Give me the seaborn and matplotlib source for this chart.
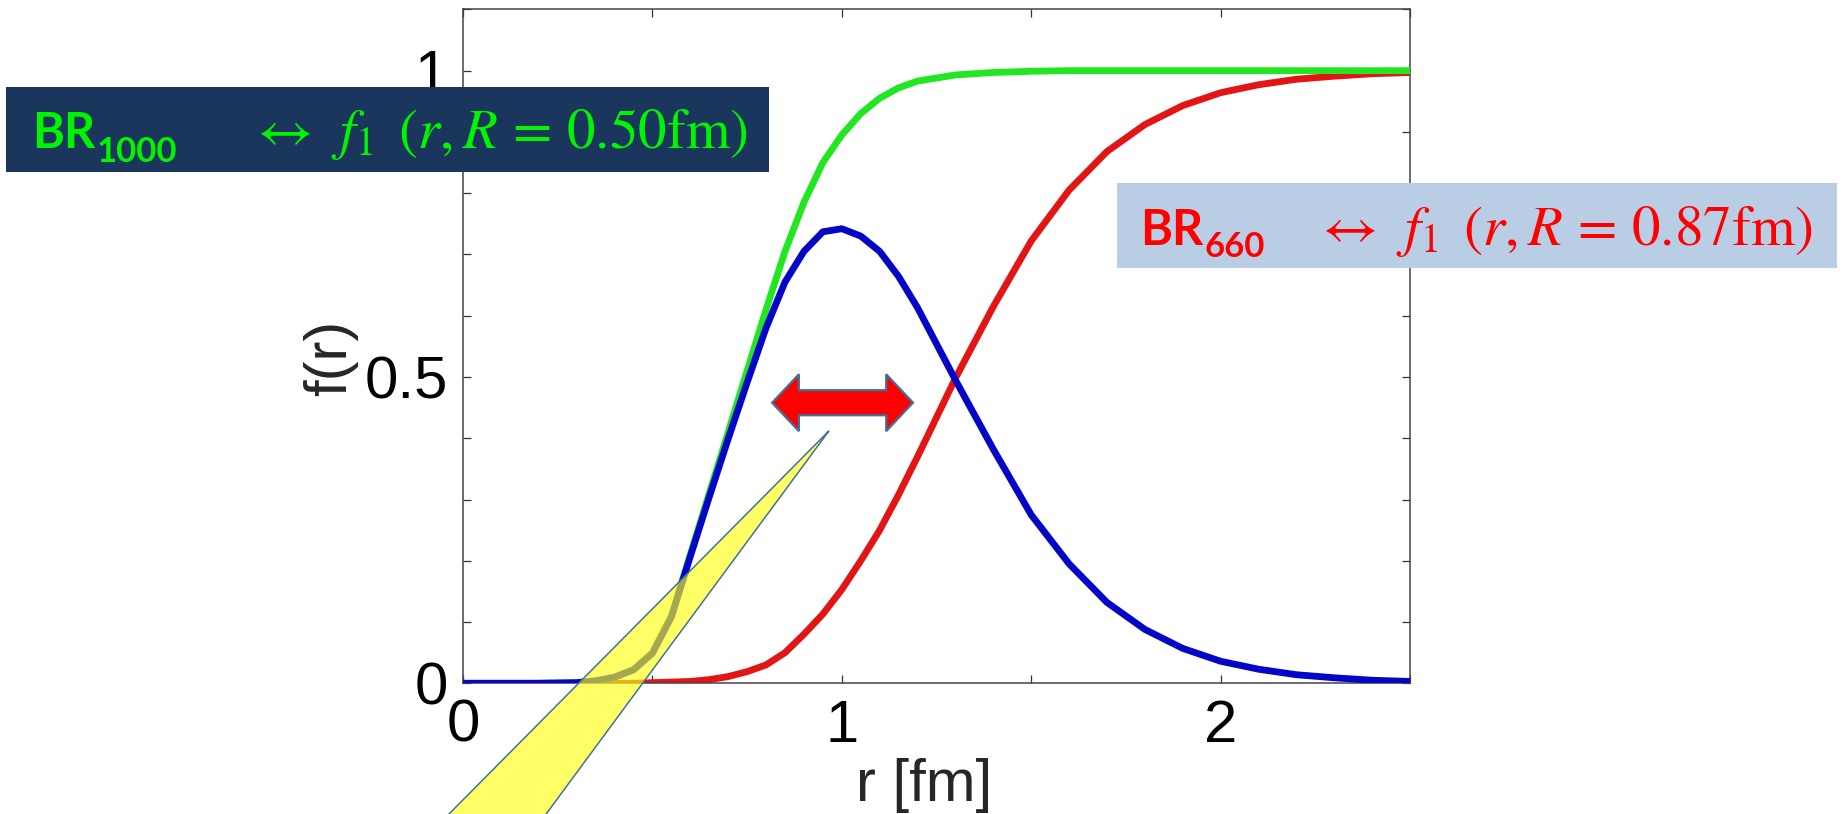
import matplotlib
matplotlib.use("Agg")
import matplotlib.pyplot as plt
from matplotlib.patches import Rectangle, Polygon
import pandas as pd
import seaborn as sns

# radial grid [fm]
r_fm = [0.0, 0.1, 0.2, 0.3, 0.35, 0.4, 0.45, 0.5, 0.55, 0.6, 0.65, 0.7, 0.75,
        0.8, 0.85, 0.9, 0.95, 1.0, 1.05, 1.1, 1.15, 1.2, 1.3, 1.4, 1.5, 1.6,
        1.7, 1.8, 1.9, 2.0, 2.1, 2.2, 2.3, 2.4, 2.5]

# f1(r, R = 0.50 fm)
f1_R050 = [0, 0, 0, 0.001, 0.004, 0.01, 0.022, 0.05, 0.11, 0.21, 0.31, 0.41,
           0.51, 0.61, 0.705, 0.785, 0.85, 0.895, 0.93, 0.955, 0.972, 0.983,
           0.993, 0.997, 0.999, 1.0, 1.0, 1.0, 1.0, 1.0, 1.0, 1.0, 1.0, 1.0, 1.0]

# f1(r, R = 0.87 fm)
f1_R087 = [0, 0, 0, 0, 0, 0, 0, 0.001, 0.002, 0.003, 0.006, 0.011, 0.019,
           0.03, 0.05, 0.08, 0.113, 0.153, 0.2, 0.25, 0.308, 0.37, 0.498,
           0.615, 0.722, 0.805, 0.868, 0.912, 0.943, 0.964, 0.977, 0.986, 0.991,
           0.995, 0.997]

# difference of the two profiles
f_diff = [0, 0, 0, 0.001, 0.004, 0.01, 0.022, 0.049, 0.108, 0.207, 0.304,
          0.399, 0.491, 0.58, 0.655, 0.705, 0.737, 0.742, 0.73, 0.705, 0.664,
          0.613, 0.495, 0.382, 0.275, 0.195, 0.132, 0.088, 0.057, 0.036, 0.023,
          0.014, 0.009, 0.005, 0.003]

x_ticks = [0, 0.5, 1, 1.5, 2, 2.5]
x_tick_labels = ["0", "", "1", "", "2", ""]
y_ticks = [0.0, 0.1, 0.2, 0.3, 0.4, 0.5, 0.6, 0.7, 0.8, 0.9, 1.0, 1.1]
y_tick_labels = ["0", "", "", "", "", "0.5", "", "", "", "", "1", ""]

sns.set_style("ticks")
plt.rcParams["font.family"] = ["Liberation Sans", "DejaVu Sans"]
plt.rcParams["mathtext.fontset"] = "stix"

W, H = 1847, 814
fig = plt.figure(figsize=(W / 100, H / 100), dpi=100)
fig.patch.set_facecolor("white")


def fx(px):
    return px / W


def fy(py):
    return 1 - py / H


ax_left, ax_right, ax_bottom, ax_top = 463.0, 1410.0, 683.3, 9.4
ax = fig.add_axes([fx(ax_left), fy(ax_bottom),
                   (ax_right - ax_left) / W, (ax_bottom - ax_top) / H])

df = pd.DataFrame({"r": r_fm, "R050": f1_R050, "R087": f1_R087, "diff": f_diff})
line_w = 4.9
sns.lineplot(data=df, x="r", y="R087", color="#E31414", lw=line_w, ax=ax, zorder=2)
sns.lineplot(data=df, x="r", y="R050", color="#22E622", lw=line_w, ax=ax, zorder=3)
sns.lineplot(data=df, x="r", y="diff", color="#0505C8", lw=line_w, ax=ax, zorder=3.5)

ax.set_xlim(0, 2.5)
ax.set_ylim(0, 1.1)
ax.set_xticks(x_ticks)
ax.set_xticklabels(x_tick_labels)
ax.set_yticks(y_ticks)
ax.set_yticklabels(y_tick_labels)
ax.tick_params(direction="in", length=5.8, width=0.9, color="#333333",
               labelcolor="black", labelsize=43, pad=11,
               top=True, right=True, bottom=True, left=True)
for sp in ax.spines.values():
    sp.set_color("#444444")
    sp.set_linewidth(1.1)
    sp.set_visible(True)

ax.set_xlabel("r [fm]", fontsize=43)
ax.set_ylabel("f(r)", fontsize=43)
ax.xaxis.set_label_coords((924 - ax_left) / (ax_right - ax_left),
                          (ax_bottom - 758) / (ax_bottom - ax_top))
ax.yaxis.set_label_coords((358 - ax_left) / (ax_right - ax_left),
                          (ax_bottom - 358) / (ax_bottom - ax_top))

# translucent yellow callout wedge pointing at the overlap region
wedge_pts = [(0.966, 0.412), (-0.176, -0.3), (0.116, -0.3)]
ax.add_patch(Polygon(wedge_pts, closed=True, facecolor="#FFFF14", alpha=0.65,
                     edgecolor="none", clip_on=False, zorder=4))
ax.add_patch(Polygon(wedge_pts, closed=True, facecolor="none",
                     edgecolor="#41719C", linewidth=1.1, clip_on=False,
                     zorder=4.1))

# red double-headed block arrow
cx0, cx1, cy = 0.816, 1.188, 0.458
hl, hhw, shw = 0.0708, 0.0465, 0.0205
arrow_pts = [(cx0, cy), (cx0 + hl, cy + hhw), (cx0 + hl, cy + shw),
             (cx1 - hl, cy + shw), (cx1 - hl, cy + hhw), (cx1, cy),
             (cx1 - hl, cy - hhw), (cx1 - hl, cy - shw), (cx0 + hl, cy - shw),
             (cx0 + hl, cy - hhw)]
ax.add_patch(Polygon(arrow_pts, closed=True, facecolor="#FF0000",
                     edgecolor="#41719C", linewidth=1.6, zorder=5,
                     joinstyle="miter"))

# labelled boxes
fig.add_artist(Rectangle((fx(6), fy(172)), 763 / W, 85 / H,
                         transform=fig.transFigure, facecolor="#1B365D",
                         edgecolor="none", zorder=10))
fig.add_artist(Rectangle((fx(1117), fy(268)), 720 / W, 85 / H,
                         transform=fig.transFigure, facecolor="#B9CDE5",
                         edgecolor="none", zorder=10))

green_txt, red_txt = "#00F500", "#FF0000"
sans_bold = dict(family=["Lato", "DejaVu Sans"], weight="bold",
                 va="baseline", ha="left", zorder=11)
fig.text(fx(32), fy(148), "BR", fontsize=35, color=green_txt, **sans_bold)
fig.text(fx(97), fy(162), "1000", fontsize=25, color=green_txt, **sans_bold)
fig.text(fx(250), fy(148),
         r"$\leftrightarrow\ \,f_1\ \,(r, R\,=\,0.50\mathrm{fm})$",
         fontsize=41, color=green_txt, va="baseline", ha="left", zorder=11)

fig.text(fx(1140), fy(245), "BR", fontsize=35, color=red_txt, **sans_bold)
fig.text(fx(1204), fy(257), "660", fontsize=25, color=red_txt, **sans_bold)
fig.text(fx(1315), fy(245),
         r"$\leftrightarrow\ \,f_1\ \,(r, R\,=\,0.87\mathrm{fm})$",
         fontsize=41, color=red_txt, va="baseline", ha="left", zorder=11)

fig.savefig("out.png", dpi=100, facecolor="white")
